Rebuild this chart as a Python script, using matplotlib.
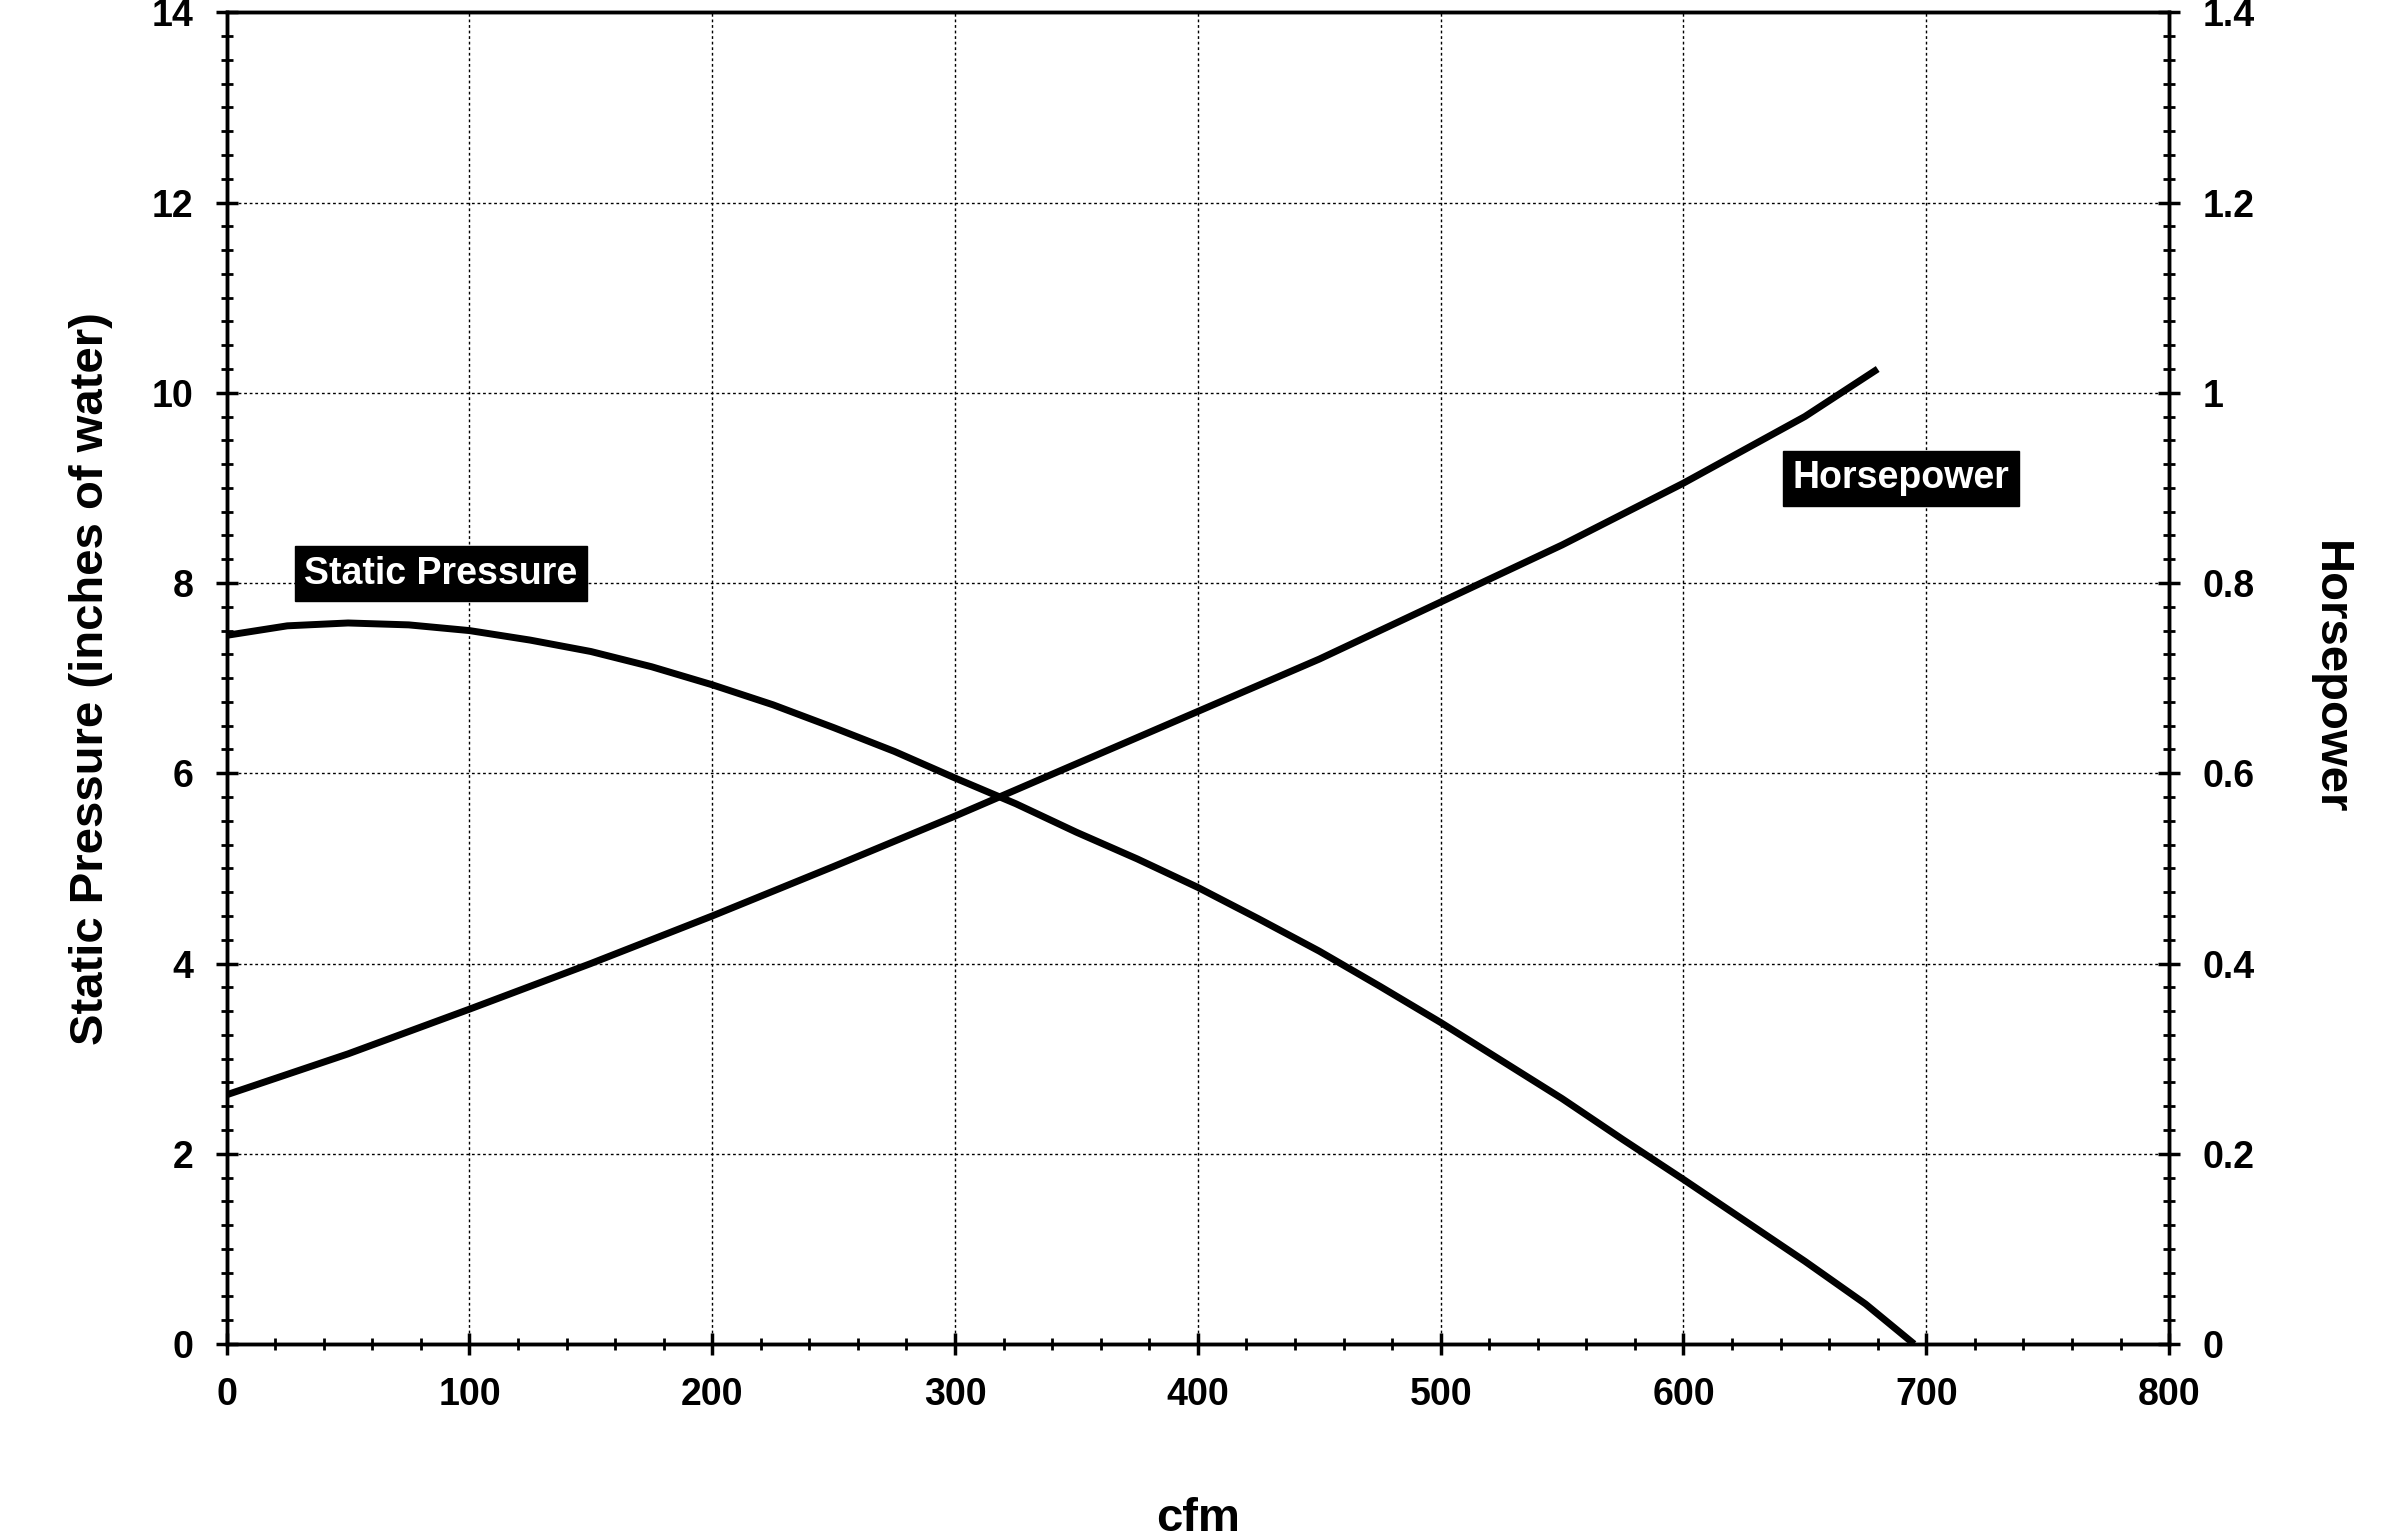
import matplotlib
matplotlib.use("Agg")
import matplotlib.pyplot as plt
from matplotlib.ticker import MultipleLocator

sp_x = [0, 25, 50, 75, 100, 125, 150, 175, 200, 225, 250, 275, 300, 325, 350, 375, 400,
        425, 450, 475, 500, 525, 550, 575, 600, 625, 650, 675, 695]
sp_y = [7.45, 7.55, 7.58, 7.56, 7.5, 7.4, 7.28, 7.12, 6.93, 6.72, 6.48, 6.23, 5.95, 5.68,
        5.38, 5.1, 4.8, 4.47, 4.13, 3.76, 3.38, 2.98, 2.58, 2.15, 1.73, 1.3, 0.87, 0.42, 0.0]
hp_x = [0, 50, 100, 150, 200, 250, 300, 350, 400, 450, 500, 550, 600, 650, 680]
hp_y = [0.262, 0.305, 0.352, 0.4, 0.45, 0.502, 0.555, 0.61, 0.665, 0.72, 0.78, 0.84,
        0.905, 0.975, 1.025]

plt.rcParams['font.family'] = ['Liberation Sans', 'DejaVu Sans']
plt.rcParams['font.weight'] = 'bold'

fig = plt.figure(figsize=(24.01, 15.36), dpi=100)
ax = fig.add_axes([0.0944, 0.125, 0.809, 0.867])
ax2 = ax.twinx()

ax.plot(sp_x, sp_y, color='black', lw=5, solid_capstyle='butt', solid_joinstyle='round')
ax2.plot(hp_x, hp_y, color='black', lw=5, solid_capstyle='butt', solid_joinstyle='round')

ax.set_xlim(0, 800); ax.set_ylim(0, 14); ax2.set_ylim(0, 1.4)
ax.xaxis.set_major_locator(MultipleLocator(100)); ax.xaxis.set_minor_locator(MultipleLocator(20))
ax.yaxis.set_minor_locator(MultipleLocator(0.25))
ax2.yaxis.set_minor_locator(MultipleLocator(0.025))
ax.set_yticks(range(0, 15, 2)); ax.set_yticklabels([str(v) for v in range(0, 15, 2)])
ax2.set_yticks([i*0.2 for i in range(8)]); ax2.set_yticklabels(['0','0.2','0.4','0.6','0.8','1','1.2','1.4'])
ax.grid(True, which='major', color='black', ls=(0, (2, 2)), lw=1)
for a in (ax, ax2):
    for s in a.spines.values():
        s.set_linewidth(2.5)
    a.tick_params(which='major', direction='inout', length=16, width=2.5, labelsize=27)
    a.tick_params(which='minor', direction='inout', length=9, width=2)
ax.tick_params(axis='x', pad=16)
ax.tick_params(axis='y', pad=16)
ax2.tick_params(axis='y', pad=16)
ax.set_xlabel('cfm', fontsize=34, fontweight='bold', labelpad=60)
ax.set_ylabel('Static Pressure (inches of water)', fontsize=34, fontweight='bold', labelpad=28)
ax2.set_ylabel('Horsepower', fontsize=34, fontweight='bold', rotation=270, labelpad=70)

box = dict(facecolor='black', edgecolor='black', boxstyle='square,pad=0.25')
ax.text(32, 8.1, 'Static Pressure', color='white', fontsize=27, fontweight='bold', va='center', bbox=box)
ax.text(645, 9.1, 'Horsepower', color='white', fontsize=27, fontweight='bold', va='center', bbox=box)

fig.savefig('out.png', dpi=100)
